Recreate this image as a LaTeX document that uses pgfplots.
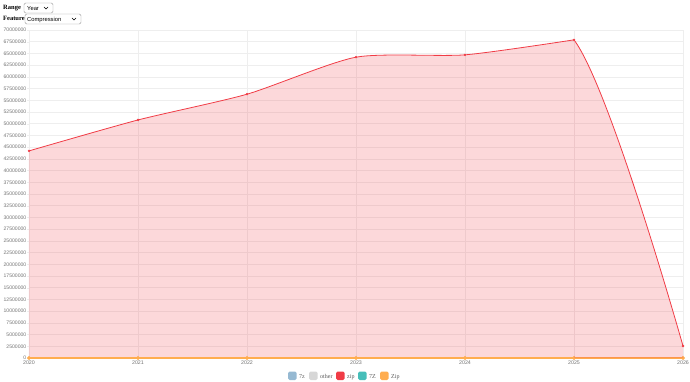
\documentclass[border=0pt]{standalone}
\usepackage{pgfplots}
\pgfplotsset{compat=1.18}
\usepackage{fontspec}
\setmainfont{Liberation Serif}
\setsansfont{Liberation Sans}
\definecolor{zipred}{RGB}{240,60,70}
\definecolor{c7z}{RGB}{150,185,210}
\definecolor{cother}{RGB}{215,215,215}
\definecolor{c7Z}{RGB}{70,190,185}
\definecolor{cZip}{RGB}{255,173,80}
\definecolor{gridc}{RGB}{238,238,238}
\pgfplotstableread{
year value
2020 44200000
2021 50800000
2022 56300000
2023 64200000
2024 64700000
2025 67900000
2026 2560000
}\zipdata
\begin{document}
\begin{tikzpicture}[x=1pt,y=1pt]
\path[use as bounding box] (0,0) rectangle (690,381);
% form controls
\node[anchor=base west,font=\fontsize{6.5}{7}\selectfont\bfseries,inner sep=0] at (3,371) {Range};
\draw[rounded corners=1.5pt,draw=gray!80,fill=white] (24,368) rectangle (53,378);
\node[anchor=base west,font=\sffamily\fontsize{5.8}{7}\selectfont,inner sep=0] at (27,370.5) {Year};
\draw[line width=0.7pt] (44,374) -- (46,372) -- (48,374);
\node[anchor=base west,font=\fontsize{6.5}{7}\selectfont\bfseries,inner sep=0] at (3,360) {Feature};
\draw[rounded corners=1.5pt,draw=gray!80,fill=white] (25,357) rectangle (81,367);
\node[anchor=base west,font=\sffamily\fontsize{5.8}{7}\selectfont,inner sep=0] at (27,359.5) {Compression};
\draw[line width=0.7pt] (72,363) -- (74,361) -- (76,363);
\begin{axis}[
  at={(29pt,23pt)}, anchor=south west,
  scale only axis, width=654pt, height=328pt,
  xmin=2020, xmax=2026, ymin=0, ymax=70000000,
  xtick={2020,2021,2022,2023,2024,2025,2026},
  xticklabels={2020,2021,2022,2023,2024,2025,2026},
  ytick={0,2500000,...,70000000},
  scaled y ticks=false,
  yticklabel style={/pgf/number format/fixed,/pgf/number format/1000 sep={},/pgf/number format/assume math mode=true,font=\sffamily\fontsize{5.1}{6}\selectfont,text=gray!90!black,inner sep=0.5pt},
  xticklabel style={font=\sffamily\fontsize{5.3}{6}\selectfont,text=gray!90!black,inner sep=1pt},
  grid=major, grid style={gridc,line width=0.5pt},
  axis line style={gridc},
  axis x line*=bottom, axis y line*=left,
  tick style={gridc}, major tick length=2pt,
  tick align=outside,
  clip=false,
]
\addplot[draw=none, fill=zipred, fill opacity=0.2, smooth, tension=0.4, mark=none]
  table[x=year,y=value, restrict x to domain=2020:2025] {\zipdata} \closedcycle;
\addplot[draw=zipred, line width=0.8pt, smooth, tension=0.4, mark=none]
  table[x=year,y=value, restrict x to domain=2020:2025] {\zipdata};
\addplot[draw=c7z, line width=0.8pt, mark=none] coordinates {(2020,0) (2026,0)};
\addplot[draw=cother, line width=0.8pt, mark=none] coordinates {(2020,0) (2026,0)};
\addplot[draw=c7Z, line width=0.8pt, mark=none] coordinates {(2020,0) (2026,0)};
\addplot[draw=cZip, line width=1.4pt, mark=*, mark size=1.1pt, mark options={fill=cZip,draw=cZip}]
  coordinates {(2020,0) (2021,0) (2022,0) (2023,0) (2024,0) (2025,0) (2026,0)};
\end{axis}
% right-most segment (2025-2026), clipped to its own x range
\begin{axis}[
  at={(574pt,23pt)}, anchor=south west,
  scale only axis, width=109pt, height=328pt,
  xmin=2025, xmax=2026, ymin=0, ymax=70000000,
  hide axis,
]
\addplot[draw=none, fill=zipred, fill opacity=0.2, smooth, tension=0.6, mark=none]
  table[x=year,y=value, restrict x to domain=2024:2026] {\zipdata} \closedcycle;
\addplot[draw=zipred, line width=0.8pt, smooth, tension=0.6, mark=none]
  table[x=year,y=value, restrict x to domain=2024:2026] {\zipdata};
\end{axis}
% marks on top
\begin{axis}[
  at={(29pt,23pt)}, anchor=south west,
  scale only axis, width=654pt, height=328pt,
  xmin=2020, xmax=2026, ymin=0, ymax=70000000,
  hide axis, clip=false,
]
\addplot[only marks, mark=*, mark size=1pt, mark options={fill=zipred,draw=zipred}]
  table[x=year,y=value] {\zipdata};
\end{axis}
% legend
\foreach \x/\c/\t in {288/c7z/7z, 309/cother/other, 336/zipred/zip, 358/c7Z/7Z, 380/cZip/Zip}{
  \fill[\c,rounded corners=1.5pt] (\x,1) rectangle (\x+8.5,9.5);
  \node[anchor=base west,inner sep=0,font=\fontsize{6}{7}\selectfont,text=gray!70!black] at (\x+11,3) {\t};
}
\end{tikzpicture}
\end{document}
